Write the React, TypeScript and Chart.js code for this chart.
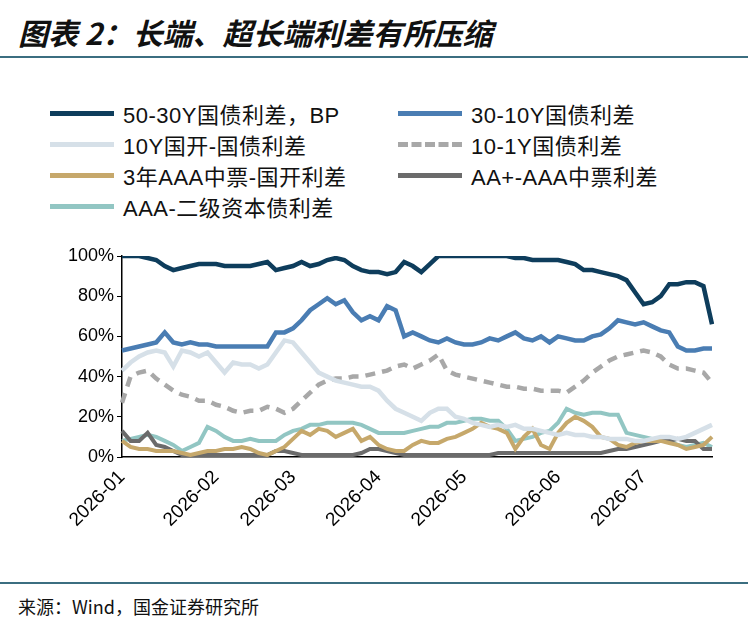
import React, { useEffect, useRef } from "react";
import { Chart, registerables } from "chart.js";
Chart.register(...registerables);

const s5030 = [100,100,100,99,98,95,93,94,95,96,96,96,95,95,95,95,96,97,93,94,95,97,95,96,98,99,98,95,93,92,92,91,92,97,95,92,96,100,100,100,100,100,100,100,100,100,99,99,98,98,98,98,97,96,93,93,92,91,90,88,82,76,77,80,86,86,87,87,85,66];
const s3010 = [53,54,55,56,57,62,57,56,57,56,56,55,55,55,55,55,55,55,62,62,64,68,73,76,79,76,78,72,68,70,68,75,73,60,62,60,58,57,59,57,56,56,57,59,58,60,62,59,58,60,57,60,59,58,58,60,61,64,68,67,66,67,65,63,62,55,53,53,54,54];
const sKai = [43,47,50,52,53,52,45,53,52,50,52,47,42,47,46,46,44,46,52,58,57,52,47,42,40,38,37,36,35,35,33,28,24,22,20,18,22,24,24,20,19,17,16,15,16,15,16,14,14,13,12,11,12,11,11,10,10,9,9,9,8,8,9,10,10,9,10,12,14,16];
const s101 = [27,40,42,43,39,36,33,31,30,28,28,26,25,23,22,23,23,25,24,22,24,28,32,36,38,39,39,40,40,41,42,43,45,46,44,46,48,51,43,41,40,39,38,37,36,35,35,34,34,33,33,33,32,35,38,42,45,48,50,51,52,53,52,50,46,44,44,43,42,37];
const sMtn = [8,5,4,4,3,3,3,2,1,2,3,3,4,4,5,4,2,1,3,5,9,13,11,14,13,10,12,14,8,10,6,4,3,3,6,8,7,7,9,10,12,14,17,15,14,12,4,10,14,6,4,12,17,20,18,15,10,9,6,5,7,8,8,8,7,6,4,5,6,10];
const sAAp = [13,8,8,12,6,5,3,1,1,1,1,1,1,1,1,1,1,1,3,3,2,1,1,1,1,1,1,1,2,4,4,3,2,1,1,1,1,1,1,1,1,1,1,1,2,2,2,2,2,2,2,2,2,2,2,2,2,3,4,4,5,6,7,8,8,9,8,8,4,4];
const sCap = [8,9,10,11,10,8,6,3,5,7,15,13,10,8,8,9,8,8,8,11,13,14,16,16,17,17,17,17,16,14,12,12,12,12,13,14,15,15,17,17,18,19,19,18,18,14,8,9,10,12,13,17,24,22,21,22,22,21,21,12,11,10,9,8,8,6,5,6,7,5];

const dates: string[] = [];
for (let i = 0; i < s5030.length; i++) {
  const d = new Date(Date.UTC(2026, 0, 1 + 3 * i));
  dates.push(d.toISOString().slice(0, 10));
}

const series = [
  { name: "50-30Y国债利差，BP", data: s5030, color: "#0e3d5c", dash: [] as number[], w: 4.5 },
  { name: "30-10Y国债利差", data: s3010, color: "#4a7db3", dash: [], w: 4.5 },
  { name: "10Y国开-国债利差", data: sKai, color: "#d6e0e8", dash: [], w: 4.5 },
  { name: "10-1Y国债利差", data: s101, color: "#a8a8a8", dash: [10, 7], w: 4.5 },
  { name: "3年AAA中票-国开利差", data: sMtn, color: "#c6a86b", dash: [], w: 4 },
  { name: "AA+-AAA中票利差", data: sAAp, color: "#6b6b6b", dash: [], w: 4 },
  { name: "AAA-二级资本债利差", data: sCap, color: "#92c6c3", dash: [], w: 4 },
];

export default function App() {
  const ref = useRef<HTMLCanvasElement>(null);
  useEffect(() => {
    const chart = new Chart(ref.current!, {
      type: "line",
      data: {
        labels: dates,
        datasets: series.map((s) => ({
          label: s.name, data: s.data, borderColor: s.color, borderWidth: s.w,
          borderDash: s.dash, pointRadius: 0, tension: 0, fill: false,
        })),
      },
      options: {
        animation: false, responsive: false,
        layout: { padding: { top: 21, right: 18 } },
        plugins: { legend: { display: false }, tooltip: { enabled: false } },
        scales: {
          x: {
            grid: { display: false, drawTicks: true, tickLength: 6 },
            border: { color: "#000", width: 1.5 },
            afterFit: (a: any) => { a.height = 108; },
            ticks: {
              autoSkip: false, maxRotation: 45, minRotation: 45, color: "#000",
              font: { family: "Liberation Sans, Arial", size: 19 },
              callback: (_v: any, i: number) => {
                const m = dates[i].slice(0, 7);
                if (i === 0 || dates[i - 1].slice(0, 7) !== m) return m;
                return null;
              },
            },
          },
          y: {
            min: 0, max: 100,
            afterFit: (a: any) => { a.width = 82; },
            grid: { drawOnChartArea: false, tickLength: 5, color: "#000" },
            border: { color: "#000", width: 1.5 },
            ticks: { stepSize: 20, color: "#000", font: { family: "Liberation Sans, Arial", size: 18 }, callback: (v: any) => v + "%" },
          },
        },
      },
    });
    return () => chart.destroy();
  }, []);

  const leg = (s: typeof series[0], left: number, top: number) => (
    <div key={s.name} style={{ position: "absolute", left, top, display: "flex", alignItems: "center" }}>
      <div style={{ width: 64, height: 0, borderTop: `5px ${s.dash.length ? "dashed" : "solid"} ${s.color}`, marginRight: 9 }} />
      <span style={{ fontSize: 22, color: "#111", letterSpacing: 0.5 }}>{s.name}</span>
    </div>
  );
  const rows = [97, 128, 159, 190];
  return (
    <div style={{ position: "absolute", left: 0, top: 0, width: 748, height: 625, background: "#fff", fontFamily: "'Liberation Sans', 'Noto Sans CJK SC', sans-serif", overflow: "hidden" }}>
      <div style={{ position: "absolute", left: 18, top: 10, fontSize: 30, fontWeight: "bold", fontStyle: "italic", fontFamily: "'Noto Sans CJK SC'", color: "#111" }}>图表 2：长端、超长端利差有所压缩</div>
      <div style={{ position: "absolute", left: 0, top: 56, width: 748, height: 1.5, background: "#3b6e80" }} />
      {series.map((s, i) => leg(s, i % 2 === 0 ? 50 : 398, rows[Math.floor(i / 2)]))}
      <canvas ref={ref} width={690} height={330} style={{ position: "absolute", left: 40, top: 235 }} />
      <div style={{ position: "absolute", left: 0, top: 582, width: 748, height: 1.5, background: "#3b6e80" }} />
      <div style={{ position: "absolute", left: 18, top: 593, fontSize: 18, color: "#111", fontFamily: "'Noto Sans CJK SC'" }}>来源：Wind，国金证券研究所</div>
    </div>
  );
}
